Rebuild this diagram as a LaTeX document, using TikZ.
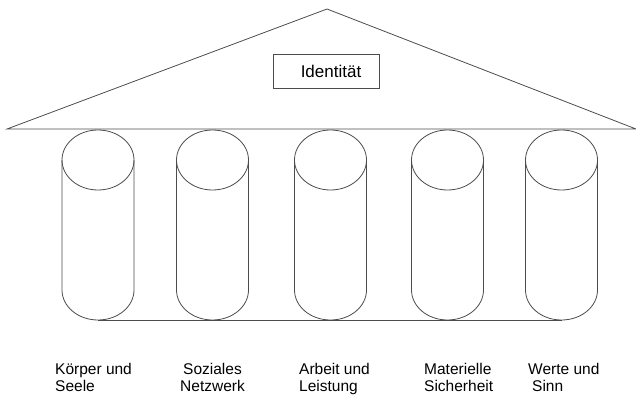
\documentclass[tikz,border=0pt]{standalone}
\usepackage{fontspec}
\setmainfont{Liberation Sans}
\usetikzlibrary{positioning}

\tikzset{
	edge/.style={draw=black!70, line width=0.8pt},
	pillarlabel/.style={anchor=base west, align=left, inner sep=0pt, font=\fontsize{15.5}{16.5}\selectfont},
}

\begin{document}
\begin{tikzpicture}[x=1pt, y=1pt]
		\useasboundingbox (0,0) rectangle (636,394);

		\coordinate (roofL) at (7,265);
		\coordinate (roofT) at (327,385);
		\coordinate (roofR) at (636,265);
		\draw[edge] (roofL) -- (roofT) -- (roofR) -- cycle;

		\node[edge, minimum width=106, minimum height=34, inner sep=0pt, font=\fontsize{17}{19}\selectfont] (ident) at (326,323) {\hspace{10pt}Identität};

		\foreach \cx [count=\i] in {98,212.5,330.5,447.5,561.5} {
			\draw[edge] (\cx,234) ellipse [x radius=36, y radius=30];
			\draw[edge] (\cx-36,234) -- (\cx-36,104) arc[start angle=180, end angle=360, x radius=36, y radius=30] -- (\cx+36,234);
			\coordinate (foot\i) at (\cx,74);
		}
		\draw[edge] (foot1) -- (foot5);

		\node[pillarlabel] (body) at (55,3) {Körper und\\Seele};
		\node[pillarlabel, anchor=base, align=center] (social) at (212.5,3) {Soziales\\Netzwerk};
		\node[pillarlabel] (work) at (299,3) {Arbeit und\\Leistung};
		\node[pillarlabel] (money) at (424,3) {Materielle\\Sicherheit};
		\node[pillarlabel] (values) at (528,3) {Werte und\\\hspace{4pt}Sinn};

	\end{tikzpicture}
\end{document}
